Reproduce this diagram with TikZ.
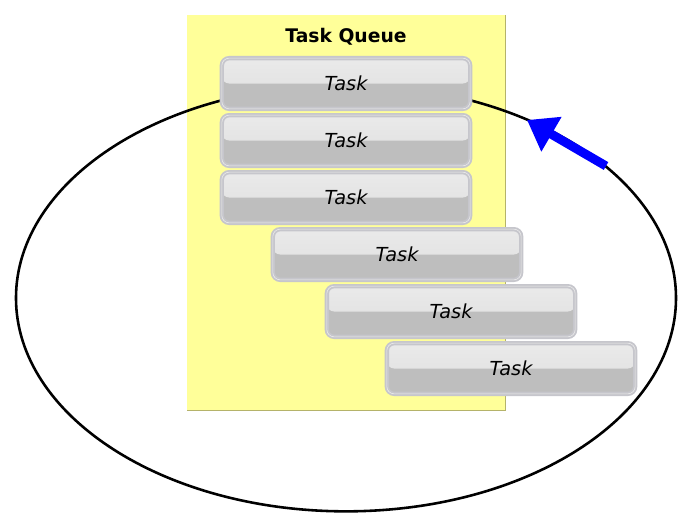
\documentclass[tikz,border=0pt]{standalone}
\usepackage{fontspec}
\setmainfont{DejaVu Sans}
\setsansfont{DejaVu Sans}
\usepackage{xcolor}
\usepackage{tikz}
\usetikzlibrary{shapes}
\usetikzlibrary{arrows.meta}
\usetikzlibrary{calc}
\usetikzlibrary{positioning}
\definecolor{queue-fill}{HTML}{FFFF99}
\definecolor{queue-edge}{HTML}{B5B36A}
\definecolor{task-top}{HTML}{EAEAEA}
\definecolor{task-mid}{HTML}{DEDEDE}
\definecolor{task-bottom}{HTML}{BEBEBE}
\definecolor{task-border}{HTML}{C6C6CC}
\tikzset{node distance=0.19cm, auto, every text node part/.style={align=center}}
\tikzstyle{ln} = [draw, blue, line width=0.27cm, -{Triangle[length=0.85cm, width=1.15cm]}]

\begin{document}
\begin{tikzpicture}[x=0.03cm, y=-0.03cm,
        loop-node/.style={ellipse, draw=black, line width=2.2pt, minimum width=19.8cm, minimum height=12.8cm},
        queue-block/.style={rectangle, fill=queue-fill, minimum width=9.54cm, minimum height=11.85cm, inner sep=0},
        title-node/.style={font={\sffamily\bfseries\fontsize{16}{19}\selectfont}},
        task-block/.style={rectangle, rounded corners=0.22cm, fill=task-bottom, draw=task-border, line width=1.6pt, double=white!92!black, double distance=0.5pt, minimum width=7.45cm, minimum height=1.52cm, outer sep=0, font={\sffamily\itshape\fontsize{16.5}{19}\selectfont},
          path picture={\shade[top color=task-top, bottom color=task-mid] (path picture bounding box.north west) rectangle (path picture bounding box.east);}}
      ]
      \useasboundingbox (0,0) rectangle (691,528);
      \node[queue-block]       (queue) at (346,212.5)          {};
      \draw[queue-edge, line width=1pt] (queue.north east) -- (queue.south east) -- (queue.south west);
      \node[loop-node]         (loop)  at (346,298)            {};
      \node[title-node]        (title) [below=0.28cm of queue.north] {Task Queue};
      \node[task-block]        (t1)    at (346,83.5)           {Task};
      \node[task-block]        (t2)    [below=of t1]           {Task};
      \node[task-block]        (t3)    [below=of t2]           {Task};
      \node[task-block]        (t4)    [below=of t3, xshift=1.53cm] {Task};
      \node[task-block]        (t5)    [below=of t4, xshift=1.62cm] {Task};
      \node[task-block]        (t6)    [below=of t5, xshift=1.8cm]  {Task};
      \coordinate              (tail)  at (606,166);
      \coordinate              (head)  at (527,120);
      \path[ln]                (tail) -- (head);
    \end{tikzpicture}
\end{document}
